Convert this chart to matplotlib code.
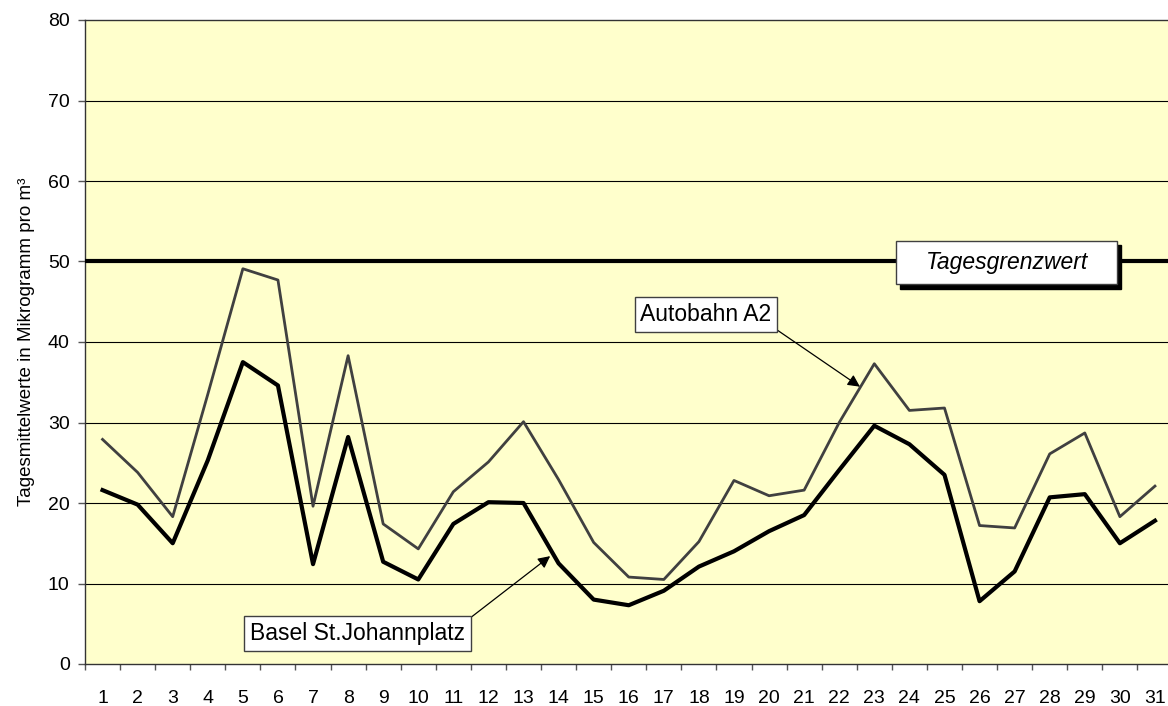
import numpy as np
import matplotlib
matplotlib.use("Agg")
import matplotlib.pyplot as plt
import matplotlib.transforms as mtransforms
from matplotlib.patches import Rectangle

plt.rcParams['font.family'] = ['Liberation Sans', 'DejaVu Sans']

#%% data
days = list(range(1, 32))
autobahn_a2 = [27.9, 23.8, 18.3, 33.5, 49.1, 47.7, 19.6, 38.3, 17.4, 14.3,
               21.4, 25.1, 30.1, 22.9, 15.1, 10.8, 10.5, 15.2, 22.8, 20.9,
               21.6, 30.0, 37.3, 31.5, 31.8, 17.2, 16.9, 26.1, 28.7, 18.3, 22.1]
basel_johann = [21.6, 19.8, 15.0, 25.3, 37.5, 34.6, 12.4, 28.2, 12.7, 10.5,
                17.4, 20.1, 20.0, 12.5, 8.0, 7.3, 9.1, 12.1, 14.0, 16.5,
                18.5, 24.1, 29.6, 27.3, 23.5, 7.8, 11.5, 20.7, 21.1, 15.0, 17.8]
grenzwert = 50
y_ticks = [0, 10, 20, 30, 40, 50, 60, 70, 80]

#%% figure
fig = plt.figure(figsize=(11.68, 7.06), dpi=100)
# plot area runs slightly past the right edge like in the original
ax = fig.add_axes([85 / 1168, 42 / 706, 1087.5 / 1168, 644 / 706])
ax.set_facecolor('#FFFFCC')

ax.set_xlim(0.5, 31.5)
ax.set_ylim(0, 80)

# horizontal grid
for y in y_ticks[1:-1]:
    ax.axhline(y, color='black', lw=0.8, zorder=1)

ax.plot(days, autobahn_a2, color='#404040', lw=2.0, zorder=3)
ax.plot(days, basel_johann, color='black', lw=3.0, zorder=4)
ax.axhline(grenzwert, color='black', lw=3.0, zorder=4)

# axes styling
ax.spines['right'].set_visible(False)
for side in ['left', 'bottom', 'top']:
    ax.spines[side].set_color('#333333')
    ax.spines[side].set_linewidth(1.0)

ax.set_yticks(y_ticks)
ax.tick_params(axis='y', direction='out', length=5, width=1, color='#555555',
               labelsize=14, pad=6)

# ticks between the categories, labels at the centres
ax.set_xticks(np.arange(0.5, 32, 1))
ax.set_xticklabels([])
ax.set_xticks(days, minor=True)
ax.set_xticklabels([str(d) for d in days], minor=True)
ax.tick_params(axis='x', which='major', direction='out', length=4.5, width=1,
               color='#555555')
ax.tick_params(axis='x', which='minor', length=0, labelsize=14, pad=19)

ax.set_ylabel('Tagesmittelwerte in Mikrogramm pro m³', fontsize=13.5,
              labelpad=9)

#%% labels
shadow = mtransforms.offset_copy(ax.transData, fig=fig, x=4, y=-4.5, units='dots')
ax.add_patch(Rectangle((23.62, 47.2), 6.3, 5.35, transform=shadow,
                       fc='black', ec='black', zorder=5))
ax.add_patch(Rectangle((23.62, 47.2), 6.3, 5.35, fc='white', ec='#404040',
                       lw=1, zorder=6))
ax.text(26.77, 49.9, 'Tagesgrenzwert', style='italic', fontsize=16.5,
        ha='center', va='center', zorder=7)

box = dict(boxstyle='square,pad=0.25', fc='white', ec='#404040', lw=1)
ax.annotate('Autobahn A2', xy=(22.59, 34.45), xytext=(18.2, 43.4),
            ha='center', va='center', fontsize=16.5, bbox=box, zorder=7,
            arrowprops=dict(arrowstyle='-|>', color='black', lw=0.9,
                            relpos=(1, 0), shrinkA=0, shrinkB=0,
                            mutation_scale=18))
ax.annotate('Basel St.Johannplatz', xy=(13.76, 13.4), xytext=(8.27, 3.8),
            ha='center', va='center', fontsize=16.5, bbox=box, zorder=7,
            arrowprops=dict(arrowstyle='-|>', color='black', lw=0.9,
                            relpos=(1, 1), shrinkA=0, shrinkB=0,
                            mutation_scale=18))

fig.savefig('out.png', dpi=100)
